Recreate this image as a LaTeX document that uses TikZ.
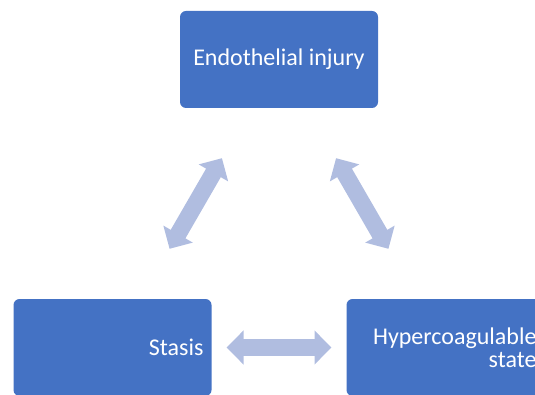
\documentclass[tikz,border=0pt]{standalone}
\usepackage{fontspec}
\setmainfont{Carlito}
\usetikzlibrary{arrows.meta}
\definecolor{boxblue}{HTML}{4472C4}
\definecolor{arrowblue}{HTML}{B0BDE0}
\tikzset{
  box/.style={fill=boxblue, rounded corners=6pt, minimum width=198pt, minimum height=97pt,
    inner sep=8pt, text=white, font=\fontsize{24}{23}\selectfont},
  link/.style={draw=arrowblue, line width=17pt,
    {Triangle[width=33pt,length=17pt]}-{Triangle[width=33pt,length=17pt]},
    shorten <=114pt, shorten >=114pt}
}
\begin{document}
\begin{tikzpicture}[x=1pt,y=-1pt]
    \useasboundingbox (0,0) rectangle (535,395);
    \clip (0,0) rectangle (535,395);

    % Triad boxes
    \node[box, align=center] (endo) at (279,59.5) {Endothelial injury};
    \node[box, text width=182pt, align=right] (stasis) at (112.5,347.5) {Stasis};
    \node[box, text width=182pt, align=right] (hyper) at (445.5,347.5) {Hypercoagulable\\state};

    % Two-way arrows
    \draw[link] (stasis.center) -- (endo.center);
    \draw[link] (endo.center) -- (hyper.center);
    \draw[link] (stasis.center) -- (hyper.center);
\end{tikzpicture}
\end{document}
